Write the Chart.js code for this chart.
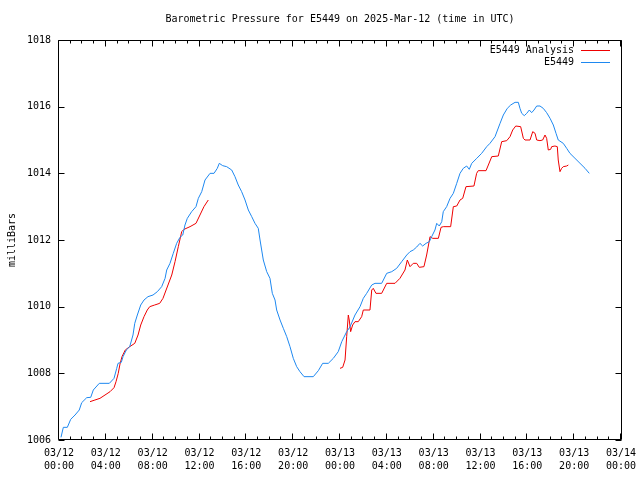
<!DOCTYPE html>
<html><head><meta charset="utf-8">
<script src="https://cdn.jsdelivr.net/npm/chart.js@4/dist/chart.umd.min.js"></script>
<style>html,body{margin:0;padding:0;background:#fff;}canvas{display:block;}</style>
</head><body>
<canvas id="c" width="640" height="480"></canvas>
<script>
const chartTitle = 'Barometric Pressure for E5449 on 2025-Mar-12 (time in UTC)';
const yAxisTitle = 'milliBars';
const seriesNames = ['E5449 Analysis', 'E5449'];
const seriesColors = ['#ee0000', '#1e88f0'];
const tickDates = ['03/12','03/12','03/12','03/12','03/12','03/12','03/13','03/13','03/13','03/13','03/13','03/13','03/14'];
const tickTimes = ['00:00','04:00','08:00','12:00','16:00','20:00','00:00','04:00','08:00','12:00','16:00','20:00','00:00'];
const yTickValues = [1006, 1008, 1010, 1012, 1014, 1016, 1018];

// E5449 (hours since 03/12 00:00 UTC, mb)
const blueHours = [0.17,0.37,0.71,1.00,1.37,1.73,1.94,2.37,2.71,2.93,3.44,4.30,4.70,4.93,5.04,5.32,5.47,5.75,6.04,6.32,6.47,6.69,6.98,7.26,7.60,8.03,8.40,8.77,9.06,9.20,9.48,9.76,10.05,10.33,10.57,10.76,10.96,11.33,11.70,11.90,12.19,12.47,12.90,13.24,13.52,13.69,13.98,14.32,14.75,15.03,15.31,15.60,15.89,16.17,16.46,16.74,17.02,17.17,17.45,17.74,18.02,18.22,18.45,18.59,18.88,19.16,19.45,19.73,20.01,20.30,20.58,20.93,21.72,22.15,22.52,23.00,23.43,23.85,24.15,24.57,24.85,25.28,25.71,25.99,26.28,26.71,26.99,27.56,27.99,28.42,28.84,29.27,29.70,29.98,30.26,30.55,30.83,31.06,31.35,31.63,31.83,32.11,32.26,32.48,32.69,32.82,33.11,33.40,33.68,33.97,34.25,34.53,34.82,35.04,35.25,35.68,36.10,36.53,36.81,37.24,37.67,37.95,38.29,38.58,38.95,39.23,39.37,39.52,39.74,39.95,40.17,40.37,40.57,40.80,41.08,41.36,41.65,41.94,42.22,42.45,42.64,43.07,43.36,43.64,44.07,44.50,44.93,45.29];
const bluePressure = [1006.08,1006.38,1006.38,1006.62,1006.75,1006.90,1007.12,1007.27,1007.28,1007.50,1007.70,1007.70,1007.85,1008.15,1008.30,1008.33,1008.50,1008.70,1008.80,1009.15,1009.50,1009.75,1010.05,1010.20,1010.30,1010.35,1010.45,1010.60,1010.85,1011.10,1011.30,1011.60,1011.90,1012.08,1012.15,1012.45,1012.65,1012.85,1013.00,1013.25,1013.45,1013.80,1014.00,1014.00,1014.15,1014.30,1014.23,1014.20,1014.10,1013.90,1013.65,1013.45,1013.20,1012.90,1012.70,1012.50,1012.35,1012.00,1011.40,1011.05,1010.85,1010.40,1010.20,1009.90,1009.60,1009.35,1009.10,1008.80,1008.45,1008.20,1008.05,1007.90,1007.90,1008.08,1008.30,1008.30,1008.45,1008.65,1008.95,1009.25,1009.39,1009.75,1010.00,1010.25,1010.40,1010.65,1010.70,1010.70,1011.00,1011.05,1011.15,1011.35,1011.55,1011.65,1011.70,1011.79,1011.90,1011.82,1011.90,1011.95,1012.10,1012.30,1012.50,1012.42,1012.55,1012.85,1013.00,1013.25,1013.40,1013.70,1014.00,1014.15,1014.22,1014.12,1014.30,1014.45,1014.60,1014.80,1014.90,1015.10,1015.50,1015.75,1015.95,1016.05,1016.13,1016.13,1015.95,1015.80,1015.73,1015.80,1015.90,1015.82,1015.90,1016.02,1016.02,1015.95,1015.82,1015.65,1015.45,1015.20,1015.00,1014.90,1014.75,1014.60,1014.45,1014.30,1014.15,1014.00];

// E5449 Analysis (null = gap in the record)
const redHours = [2.65,3.07,3.50,3.93,4.36,4.70,4.87,5.06,5.21,5.38,5.66,6.04,6.47,6.75,6.98,7.26,7.54,7.75,8.17,8.60,8.88,9.18,9.63,9.91,10.19,10.48,10.68,11.19,11.70,12.04,12.38,12.75,18.00,24.00,24.23,24.43,24.57,24.71,24.79,24.91,25.08,25.28,25.56,25.85,25.99,26.56,26.71,26.84,27.07,27.56,27.99,28.70,29.12,29.55,29.75,29.98,30.26,30.55,30.77,31.17,31.40,31.69,31.92,32.40,32.63,32.82,33.45,33.68,33.97,34.25,34.48,34.76,35.44,35.67,35.81,36.47,36.67,36.96,37.52,37.81,38.24,38.52,38.75,39.01,39.43,39.66,39.80,40.23,40.46,40.66,40.80,41.08,41.31,41.51,41.65,41.79,41.99,42.08,42.36,42.56,42.64,42.79,42.93,43.07,43.36,43.50];
const redPressure = [1007.15,1007.20,1007.25,1007.35,1007.45,1007.57,1007.75,1008.00,1008.28,1008.50,1008.70,1008.80,1008.90,1009.15,1009.45,1009.70,1009.90,1010.00,1010.05,1010.10,1010.25,1010.53,1010.95,1011.35,1011.80,1012.25,1012.32,1012.40,1012.50,1012.75,1013.00,1013.20,null,1008.15,1008.18,1008.40,1009.10,1009.75,1009.60,1009.25,1009.45,1009.55,1009.55,1009.70,1009.90,1009.90,1010.50,1010.55,1010.40,1010.40,1010.70,1010.70,1010.85,1011.10,1011.40,1011.20,1011.30,1011.30,1011.18,1011.20,1011.55,1012.10,1012.05,1012.05,1012.38,1012.40,1012.40,1013.00,1013.02,1013.20,1013.25,1013.60,1013.62,1014.00,1014.08,1014.08,1014.25,1014.50,1014.52,1014.95,1014.98,1015.10,1015.30,1015.42,1015.40,1015.05,1015.00,1015.00,1015.25,1015.20,1015.00,1014.98,1015.00,1015.15,1015.05,1014.70,1014.72,1014.80,1014.82,1014.80,1014.40,1014.05,1014.15,1014.20,1014.22,1014.25];

const FONT = '"DejaVu Sans Mono", "Liberation Mono", monospace';
const toPoints = (xs, ys) => xs.map((x, i) => ({x: x, y: ys[i]}));

const framePlugin = {
  id: 'gnuframe',
  afterDatasetsDraw(chart) {
    const {ctx, chartArea: a, scales: {x, y}} = chart;
    const L = Math.round(a.left) - 0.5, R = Math.round(a.right) + 0.5;
    const T = Math.round(a.top) + 0.5, B = Math.round(a.bottom) - 0.5;
    ctx.save();
    ctx.strokeStyle = '#000';
    ctx.lineWidth = 1;
    ctx.beginPath();
    ctx.rect(L, T, R - L, B - T);
    for (let h = x.min; h <= x.max; h += 1) {
      const px = Math.round(x.getPixelForValue(h)) - 0.5;
      const len = (h % 4 === 0) ? 6 : 3;
      ctx.moveTo(px, B); ctx.lineTo(px, B - len);
      ctx.moveTo(px, T); ctx.lineTo(px, T + len);
    }
    yTickValues.forEach(v => {
      const py = Math.round(y.getPixelForValue(v)) + 0.5;
      ctx.moveTo(L, py); ctx.lineTo(L + 6, py);
      ctx.moveTo(R, py); ctx.lineTo(R - 6, py);
    });
    ctx.stroke();
    // key (legend) inside the top-right corner
    ctx.font = '10px ' + FONT;
    ctx.textAlign = 'right';
    ctx.textBaseline = 'middle';
    seriesNames.forEach((name, i) => {
      const ly = Math.round(a.top) + 10 + i * 12;
      ctx.fillStyle = '#000';
      ctx.fillText(name, 574, ly);
      ctx.strokeStyle = seriesColors[i];
      ctx.beginPath();
      ctx.moveTo(581, ly + 0.5); ctx.lineTo(610, ly + 0.5);
      ctx.stroke();
    });
    ctx.restore();
  }
};

new Chart(document.getElementById('c'), {
  type: 'line',
  data: {
    datasets: [
      {label: seriesNames[0], data: toPoints(redHours, redPressure), borderColor: seriesColors[0], backgroundColor: seriesColors[0], borderWidth: 1, pointRadius: 0, tension: 0, spanGaps: false, fill: false, order: 1},
      {label: seriesNames[1], data: toPoints(blueHours, bluePressure), borderColor: seriesColors[1], backgroundColor: seriesColors[1], borderWidth: 1, pointRadius: 0, tension: 0, spanGaps: false, fill: false, order: 0}
    ]
  },
  options: {
    responsive: false,
    animation: false,
    events: [],
    layout: {padding: {left: 0, right: 19, top: 0, bottom: 0}},
    plugins: {
      legend: {display: false},
      tooltip: {enabled: false},
      title: {
        display: true, text: chartTitle, color: '#000', fullSize: false,
        font: {family: FONT, size: 10, weight: 'normal', lineHeight: 1.2},
        padding: {top: 13, bottom: 15}
      }
    },
    scales: {
      x: {
        type: 'linear', min: 0, max: 48,
        grid: {display: false, drawTicks: false},
        border: {display: false},
        afterFit(s) { s.height = 40; s.paddingLeft = 0; s.paddingRight = 0; },
        afterBuildTicks(s) { s.ticks = tickTimes.map((t, i) => ({value: i * 4})); },
        ticks: {
          autoSkip: false, maxRotation: 0, minRotation: 0, padding: 7, color: '#000',
          font: {family: FONT, size: 10, lineHeight: 1.3},
          callback: (v) => { const i = Math.round(v / 4); return [tickDates[i], tickTimes[i]]; }
        }
      },
      y: {
        type: 'linear', min: 1006, max: 1018,
        grid: {display: false, drawTicks: false},
        border: {display: false},
        afterFit(s) { s.width = 59; s.paddingTop = 0; s.paddingBottom = 0; },
        afterBuildTicks(s) { s.ticks = yTickValues.map(v => ({value: v})); },
        ticks: {padding: 8, color: '#000', font: {family: FONT, size: 10}, callback: (v) => String(v)},
        title: {display: true, text: yAxisTitle, color: '#000', font: {family: FONT, size: 10}, padding: {top: 6, bottom: 0}}
      }
    }
  },
  plugins: [framePlugin]
});
</script>
</body></html>
